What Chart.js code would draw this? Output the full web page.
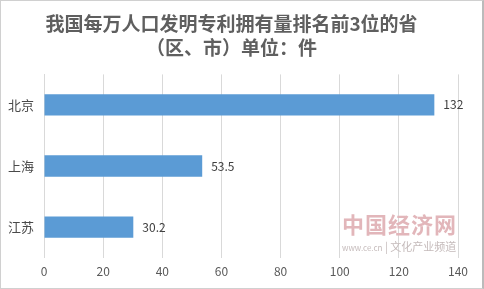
<!DOCTYPE html>
<html>
<head>
<meta charset="utf-8">
<script src="https://cdn.jsdelivr.net/npm/chart.js@4"></script>
<style>
  body { margin: 0; background: #fff; }
  #wrap { position: relative; width: 484px; height: 289px; box-sizing: border-box; border: 1px solid #d0d0d0; border-right: 2px solid #bbb; }
  #mark { position: absolute; left: 341px; top: 207px; color: #e2b6ba; font-family: "Noto Sans CJK SC", sans-serif; pointer-events: none; }
  #mark .big { font-size: 22px; font-weight: bold; letter-spacing: 1px; line-height: 30px; }
  #mark .small { font-size: 11px; color: #c4baba; line-height: 16px; white-space: nowrap; }
  #mark .small span { font-size: 8px; }
</style>
</head>
<body>
<div id="wrap">
  <canvas id="myBarChart" width="481" height="287"></canvas>
  <div id="mark"><div class="big">中国经济网</div><div class="small"><span>www.ce.cn</span> | 文化产业频道</div></div>
</div>
<script>
let labels = ["北京", "上海", "江苏"];
let data = [132, 53.5, 30.2];
let xTicks = [0, 20, 40, 60, 80, 100, 120, 140];
let titleLines = ["我国每万人口发明专利拥有量排名前3位的省", "（区、市）单位：件"];

const valueLabels = {
    id: "valueLabels",
    afterDatasetsDraw(chart) {
        const ctx = chart.ctx;
        const meta = chart.getDatasetMeta(0);
        ctx.save();
        ctx.font = "12px 'Noto Sans CJK SC', sans-serif";
        ctx.fillStyle = "#404040";
        ctx.textBaseline = "middle";
        meta.data.forEach((bar, i) => {
            ctx.fillText(String(data[i]), bar.x + 9, bar.y);
        });
        ctx.restore();
    }
};

new Chart(document.getElementById("myBarChart"), {
    type: "bar",
    data: {
        labels: labels,
        datasets: [
            {
                data: data,
                backgroundColor: "#5b9bd5",
                barPercentage: 0.7,
                categoryPercentage: 0.5
            }
        ]
    },
    options: {
        indexAxis: "y",
        responsive: false,
        animation: false,
        layout: { padding: { left: 4, right: 24, bottom: 2 } },
        plugins: {
            legend: { display: false },
            tooltip: { enabled: false },
            title: {
                display: true,
                text: titleLines,
                color: "#5f5f5f",
                font: { family: "'Noto Sans CJK SC', sans-serif", size: 19, weight: "bold", lineHeight: 1.3 },
                padding: { top: 10, bottom: 14 }
            }
        },
        scales: {
            x: {
                min: 0,
                max: 140,
                afterBuildTicks: (s) => { s.ticks = xTicks.map((v) => ({ value: v })); },
                grid: { color: "#d9d9d9", drawTicks: false },
                border: { display: false },
                ticks: { color: "#595959", font: { size: 12, family: "'Noto Sans CJK SC', sans-serif" }, padding: 7 }
            },
            y: {
                grid: { display: false, drawTicks: false },
                border: { color: "#d9d9d9" },
                ticks: { color: "#4a4a4a", font: { size: 13, family: "'Noto Sans CJK SC', sans-serif" }, padding: 10 },
                afterFit: (s) => { s.width = 39; }
            }
        }
    },
    plugins: [valueLabels]
});
</script>
</body>
</html>
